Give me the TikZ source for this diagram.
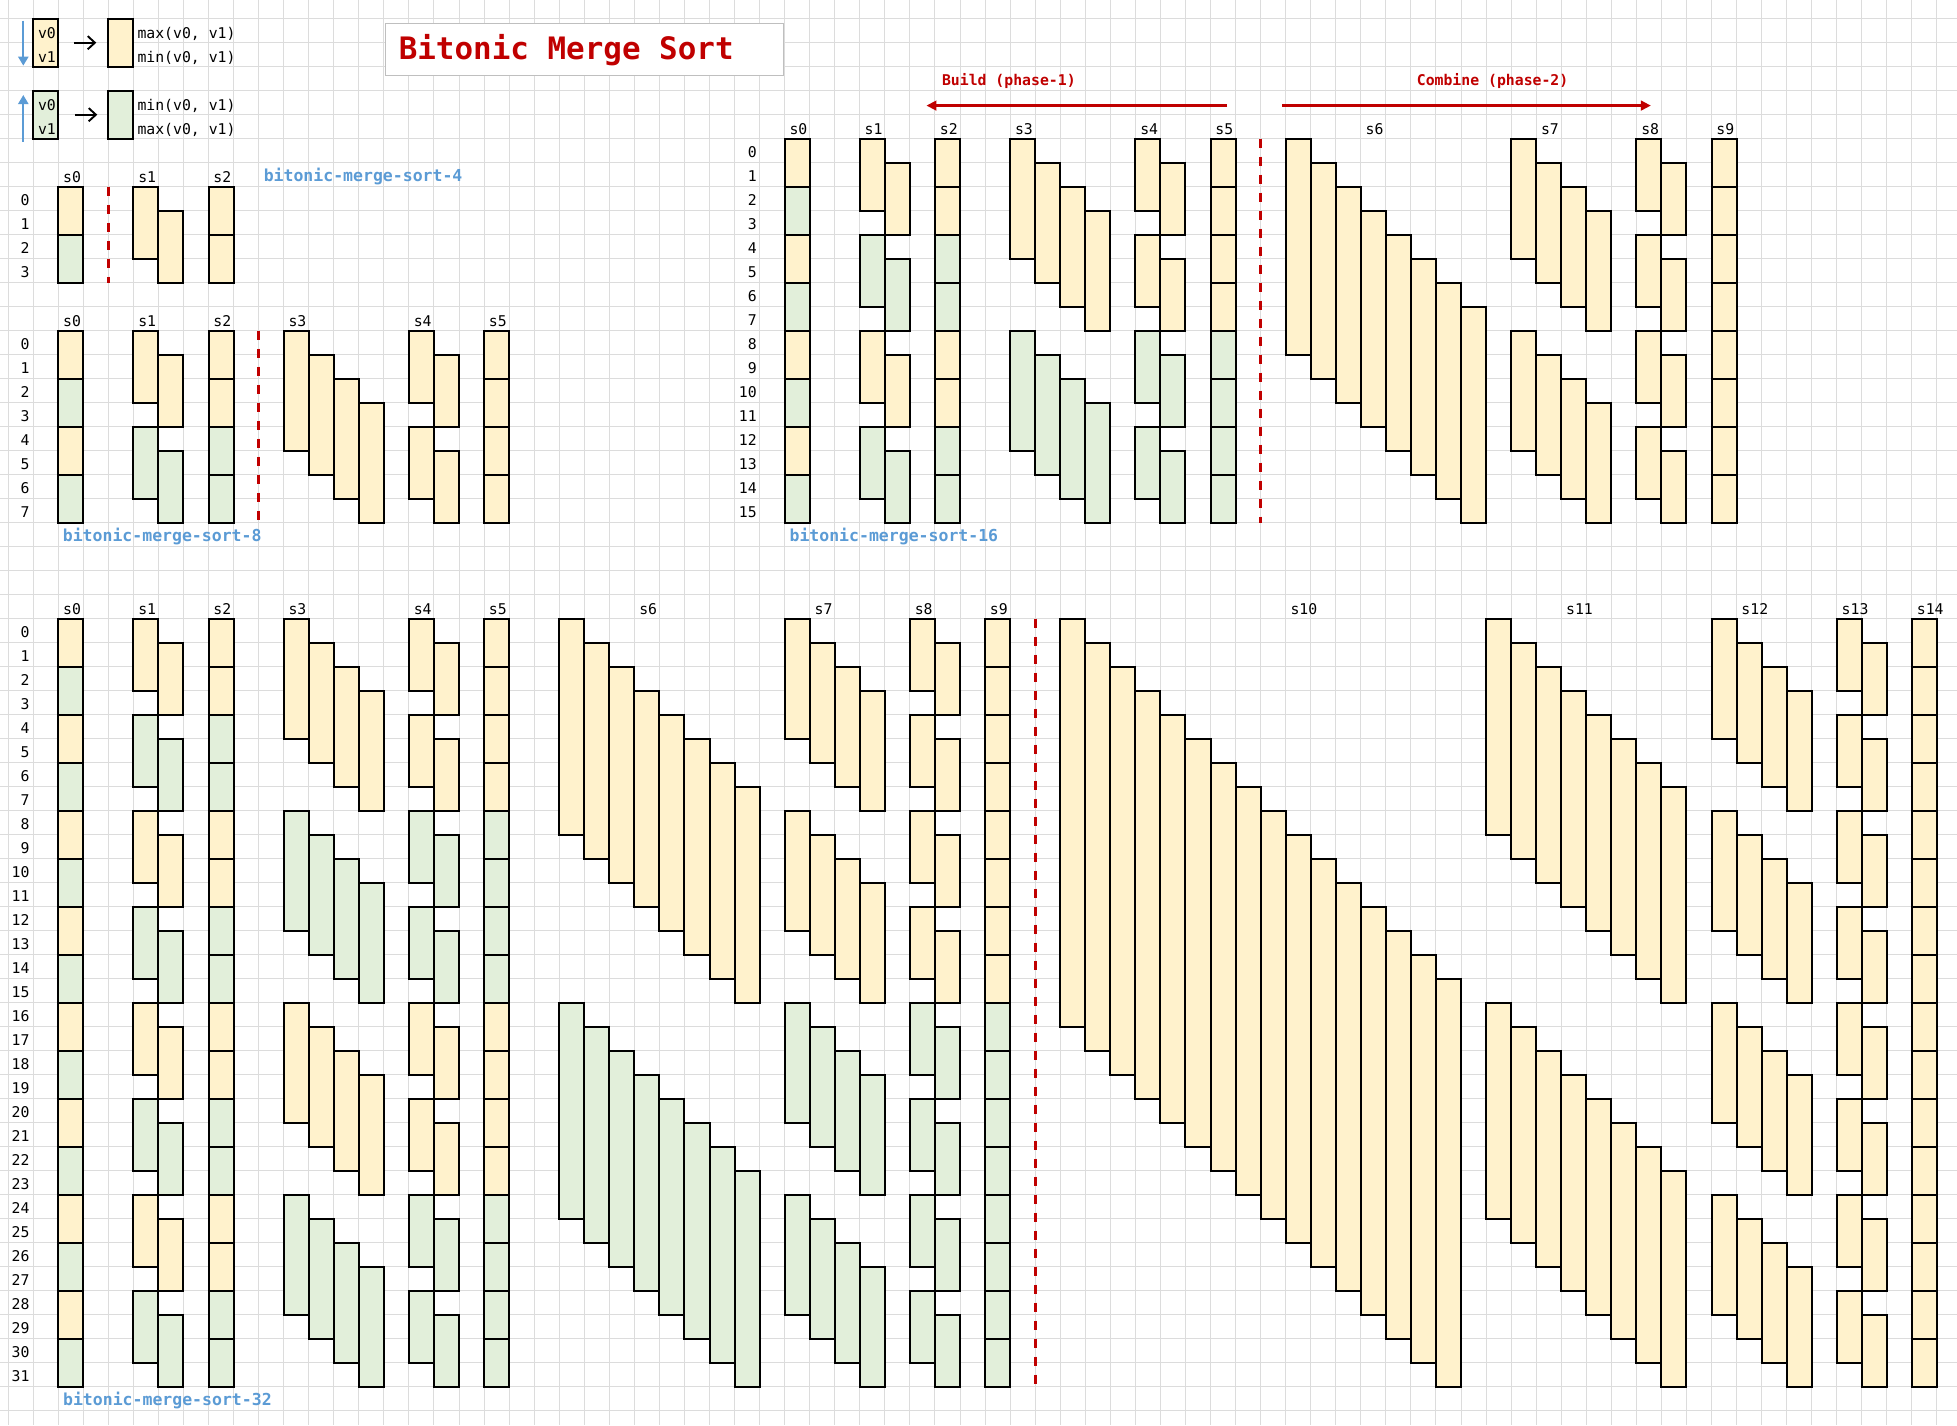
\documentclass[tikz,border=0pt]{standalone}
\usepackage{fontspec}
\setmonofont{DejaVu Sans Mono}
\usetikzlibrary{arrows.meta}
\definecolor{cy}{HTML}{FFF2CC}
\definecolor{cg}{HTML}{E2EFDA}
\definecolor{gridc}{HTML}{DCDCDC}
\definecolor{cred}{HTML}{C00000}
\definecolor{cblue}{HTML}{5B9BD5}
\definecolor{cbox}{HTML}{BFBFBF}
% #1 first column, #2 block size, #3 direction block, #4 rows, #5 first row
\newcommand{\bmstage}[5]{%
  \pgfmathtruncatemacro{\bmhalf}{#2/2}%
  \pgfmathtruncatemacro{\bmlast}{#2/2-1}%
  \pgfmathtruncatemacro{\bmnb}{#4/#2-1}%
  \foreach \bi in {0,...,\bmnb}{%
    \pgfmathtruncatemacro{\bmr}{\bi*#2}%
    \pgfmathtruncatemacro{\bmcol}{mod(floor(\bmr/#3),2)}%
    \ifnum\bmcol=0 \def\bmfill{cy}\else\def\bmfill{cg}\fi
    \foreach \c in {0,...,\bmlast}{%
      \draw[cell,fill=\bmfill] (#1+\c,-#5-\bmr-\c) rectangle ++(1,-\bmhalf-1);
    }%
  }%
}
\begin{document}
\begin{tikzpicture}[x=12.525pt,y=12pt,
  cell/.style={draw=black,line width=1pt},
  dashred/.style={draw=cred,line width=1.35pt,dash pattern=on 4.75pt off 4.25pt},
  txt/.style={font=\ttfamily\fontsize{7.4}{8}\selectfont,inner sep=0pt},
  lbl/.style={font=\ttfamily\bfseries\fontsize{8.25}{9}\selectfont,text=cblue,inner sep=0pt,anchor=base west},
  phasetxt/.style={font=\ttfamily\bfseries\fontsize{7.4}{8}\selectfont,text=cred,inner sep=0pt,anchor=base},
  phase/.style={draw=cred,line width=1.6pt,-{Triangle[length=5pt,width=4.8pt]}},
  bluearr/.style={draw=cblue,line width=1.1pt,-{Triangle[length=4.5pt,width=5pt]}},
  blkarr/.style={draw=black,line width=0.95pt,-{Straight Barb[length=3.6pt,width=6.6pt]}},
  legbox/.style={cell,minimum width=12.525pt,minimum height=24pt,inner sep=0pt,outer sep=0pt}]
\fill[white] (-0.3234,-58.596) rectangle (77.80,0.779);
\useasboundingbox (-0.3234,-58.596) rectangle (77.80,0.779);
% grid
\foreach \j in {0,...,77} \draw[gridc,line width=0.5pt] (\j,0.779) -- (\j,-58.596);
\foreach \k in {0,...,58} \draw[gridc,line width=0.5pt] (-0.3234,-\k) -- (77.80,-\k);

% legend
\coordinate (da1) at (0.607,-0.083); \coordinate (da2) at (0.607,-1.958);
\draw[bluearr] (da1) -- (da2);
\coordinate (ua1) at (0.607,-5.125); \coordinate (ua2) at (0.607,-3.18);
\draw[bluearr] (ua1) -- (ua2);
\node[legbox,fill=cy] (lb1) at (1.5,-1) {};
\node[legbox,fill=cy] (lb2) at (4.5,-1) {};
\node[legbox,fill=cg] (lb3) at (1.5,-4) {};
\node[legbox,fill=cg] (lb4) at (4.5,-4) {};
\draw[blkarr,shorten <=7.9pt,shorten >=6pt] (lb1) -- (lb2);
\draw[blkarr,shorten <=8.3pt,shorten >=5.5pt] (lb3) -- (lb4);
\node[txt,anchor=base west] (tv0a) at (1.18,-0.82) {v0};
\node[txt,anchor=base west] (tv1a) at (1.18,-1.82) {v1};
\node[txt,anchor=base west] (tv0b) at (1.18,-3.82) {v0};
\node[txt,anchor=base west] (tv1b) at (1.18,-4.82) {v1};
\node[txt,anchor=base west] (tmx1) at (5.15,-0.82) {max(v0, v1)};
\node[txt,anchor=base west] (tmn1) at (5.15,-1.82) {min(v0, v1)};
\node[txt,anchor=base west] (tmn2) at (5.15,-3.82) {min(v0, v1)};
\node[txt,anchor=base west] (tmx2) at (5.15,-4.82) {max(v0, v1)};

% title
\draw[cbox,line width=0.6pt,fill=white] (15.07,-0.19) rectangle (30.95,-2.36);
\node[anchor=base west,inner sep=0pt,font=\ttfamily\bfseries\fontsize{15.45}{18}\selectfont,text=cred] (title) at (15.58,-1.72) {Bitonic Merge Sort};

% phases
\node[phasetxt] (ph1) at (39.95,-3+0.21) {Build (phase-1)};
\node[phasetxt] (ph2) at (59.26,-3+0.21) {Combine (phase-2)};
\coordinate (b1) at (48.66,-3.62); \coordinate (b2) at (36.66,-3.62);
\coordinate (c1) at (50.87,-3.62); \coordinate (c2) at (65.58,-3.62);
\draw[phase] (b1) -- (b2);
\draw[phase] (c1) -- (c2);

% ---------- sort-4 ----------
\bmstage{2}{2}{2}{4}{7}
\bmstage{5}{4}{4}{4}{7}
\bmstage{8}{2}{4}{4}{7}
\draw[dashred] (4,-7) -- (4,-11);
\foreach \c/\t [count=\i] in {2/s0,5/s1,8/s2}
  \node[txt,anchor=base west] (h4-\i) at (\c+0.18,-7+0.17) {\t};
\foreach \r in {0,...,3}
  \node[txt,anchor=base east] (r4-\r) at (0.87,-7-\r-1+0.2) {\r};
\node[lbl] (n4) at (10.19,-7+0.22) {bitonic-merge-sort-4};

% ---------- sort-8 ----------
\bmstage{2}{2}{2}{8}{13}
\bmstage{5}{4}{4}{8}{13}
\bmstage{8}{2}{4}{8}{13}
\bmstage{11}{8}{8}{8}{13}
\bmstage{16}{4}{8}{8}{13}
\bmstage{19}{2}{8}{8}{13}
\draw[dashred] (10,-13) -- (10,-21);
\foreach \c/\t [count=\i] in {2/s0,5/s1,8/s2,11/s3,16/s4,19/s5}
  \node[txt,anchor=base west] (h8-\i) at (\c+0.18,-13+0.17) {\t};
\foreach \r in {0,...,7}
  \node[txt,anchor=base east] (r8-\r) at (0.87,-13-\r-1+0.2) {\r};
\node[lbl] (n8) at (2.17,-22+0.22) {bitonic-merge-sort-8};

% ---------- sort-16 ----------
\bmstage{31}{2}{2}{16}{5}
\bmstage{34}{4}{4}{16}{5}
\bmstage{37}{2}{4}{16}{5}
\bmstage{40}{8}{8}{16}{5}
\bmstage{45}{4}{8}{16}{5}
\bmstage{48}{2}{8}{16}{5}
\bmstage{51}{16}{16}{16}{5}
\bmstage{60}{8}{16}{16}{5}
\bmstage{65}{4}{16}{16}{5}
\bmstage{68}{2}{16}{16}{5}
\draw[dashred] (50,-5) -- (50,-21);
\foreach \c/\t [count=\i] in {31/s0,34/s1,37/s2,40/s3,45/s4,48/s5,54/s6,61/s7,65/s8,68/s9}
  \node[txt,anchor=base west] (h16-\i) at (\c+0.18,-5+0.17) {\t};
\foreach \r in {0,...,15}
  \node[txt,anchor=base east] (r16-\r) at (29.9,-5-\r-1+0.2) {\r};
\node[lbl] (n16) at (31.18,-22+0.22) {bitonic-merge-sort-16};

% ---------- sort-32 ----------
\bmstage{2}{2}{2}{32}{25}
\bmstage{5}{4}{4}{32}{25}
\bmstage{8}{2}{4}{32}{25}
\bmstage{11}{8}{8}{32}{25}
\bmstage{16}{4}{8}{32}{25}
\bmstage{19}{2}{8}{32}{25}
\bmstage{22}{16}{16}{32}{25}
\bmstage{31}{8}{16}{32}{25}
\bmstage{36}{4}{16}{32}{25}
\bmstage{39}{2}{16}{32}{25}
\bmstage{42}{32}{32}{32}{25}
\bmstage{59}{16}{32}{32}{25}
\bmstage{68}{8}{32}{32}{25}
\bmstage{73}{4}{32}{32}{25}
\bmstage{76}{2}{32}{32}{25}
\draw[dashred] (41,-25) -- (41,-57);
\foreach \c/\t [count=\i] in {2/s0,5/s1,8/s2,11/s3,16/s4,19/s5,25/s6,32/s7,36/s8,39/s9,51/s10,62/s11,69/s12,73/s13,76/s14}
  \node[txt,anchor=base west] (h32-\i) at (\c+0.18,-25+0.17) {\t};
\foreach \r in {0,...,31}
  \node[txt,anchor=base east] (r32-\r) at (0.87,-25-\r-1+0.2) {\r};
\node[lbl] (n32) at (2.18,-58+0.22) {bitonic-merge-sort-32};
\end{tikzpicture}
\end{document}
